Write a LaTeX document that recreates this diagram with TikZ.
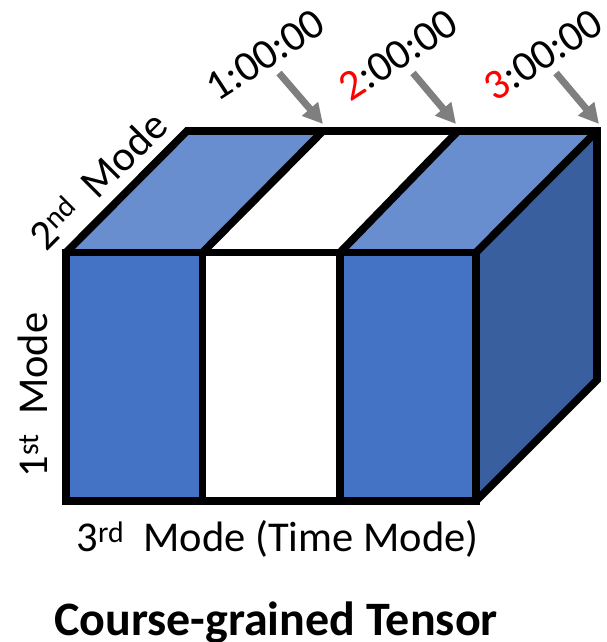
\documentclass[tikz,border=0pt]{standalone}
\usepackage{fontspec}
\setmainfont{Carlito}
\usetikzlibrary{arrows.meta}
\definecolor{frontblue}{HTML}{4472C4}
\definecolor{topblue}{HTML}{698ED0}
\definecolor{sideblue}{HTML}{395F9F}
\definecolor{arrowgray}{HTML}{7F7F7F}
\tikzset{
  edgeline/.style={draw=black,line width=7.7pt,line join=miter,line cap=butt},
  lbl/.style={inner sep=0pt,text=black,font=\fontsize{42.5}{42.5}\selectfont},
  timelbl/.style={inner sep=0pt,text=black,rotate=33,font=\fontsize{43}{43}\selectfont},
  timearrow/.style={draw=arrowgray,line width=7pt,-{Triangle[length=20pt,width=20pt]}}
}
\begin{document}
\begin{tikzpicture}[x=1pt,y=-1pt]
\useasboundingbox (0,0) rectangle (606,642);
% corners
\coordinate (fa) at (66,252.5);
\coordinate (fb) at (202.5,252.5);
\coordinate (fc) at (340,252.5);
\coordinate (fd) at (476,252.5);
\coordinate (ga) at (66,501);
\coordinate (gb) at (202.5,501);
\coordinate (gc) at (340,501);
\coordinate (gd) at (476,501);
\coordinate (ta) at (187,131);
\coordinate (tb) at (323,131);
\coordinate (tc) at (458,131);
\coordinate (td) at (597,131);
\coordinate (sd) at (597,380);
% fills
\fill[frontblue] (fa) rectangle (gb);
\fill[white] (fb) rectangle (gc);
\fill[frontblue] (fc) rectangle (gd);
\fill[topblue] (fa) -- (ta) -- (tb) -- (fb) -- cycle;
\fill[white] (fb) -- (tb) -- (tc) -- (fc) -- cycle;
\fill[topblue] (fc) -- (tc) -- (td) -- (fd) -- cycle;
\fill[sideblue] (fd) -- (td) -- (sd) -- (gd) -- cycle;
% edges
\draw[edgeline] (fa) -- (fd) -- (gd) -- (ga) -- cycle;
\draw[edgeline] (fb) -- (gb);
\draw[edgeline] (fc) -- (gc);
\draw[edgeline] (fa) -- (ta) -- (td) -- (sd) -- (gd);
\draw[edgeline] (fd) -- (td);
\draw[edgeline] (fb) -- (tb);
\draw[edgeline] (fc) -- (tc);
% time arrows
\coordinate (a1s) at (279,73);
\coordinate (a1e) at (323,124);
\coordinate (a2s) at (413,73);
\coordinate (a2e) at (456,124);
\coordinate (a3s) at (556,73);
\coordinate (a3e) at (599,124);
\draw[timearrow] (a1s) -- (a1e);
\draw[timearrow] (a2s) -- (a2e);
\draw[timearrow] (a3s) -- (a3e);
% labels
\node[timelbl] (t1) at (265,55) {1:00:00};
\node[timelbl] (t2) at (398,55) {\textcolor{red}{2}:00:00};
\node[timelbl] (t3) at (543,55) {\textcolor{red}{3}:00:00};
\node[lbl,rotate=45] (m2) at (98,180) {2\textsuperscript{nd}\ \ Mode};
\node[lbl,rotate=90] (m1) at (33,395) {1\textsuperscript{st}\ \ Mode};
\node[lbl] (m3) at (277.5,539) {3\textsuperscript{rd}\ \ Mode (Time Mode)};
\node[inner sep=0pt,text=black,font=\fontsize{48}{48}\selectfont\bfseries] (title) at (276,622.5) {Course-grained Tensor};
\end{tikzpicture}
\end{document}
